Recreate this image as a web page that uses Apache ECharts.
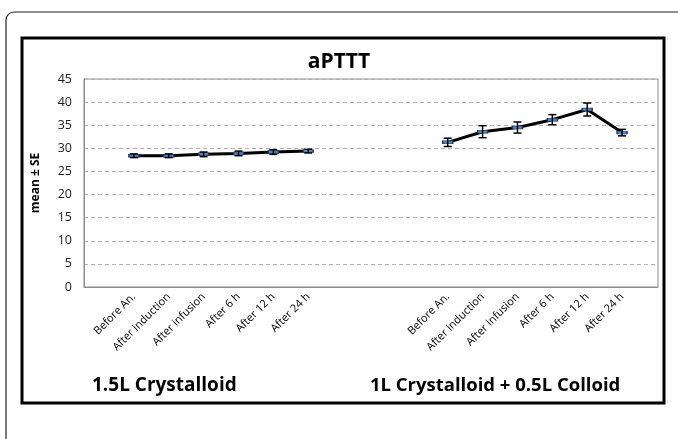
<!DOCTYPE html>
<html>
<head>
<meta charset="utf-8">
<style>
  html, body { margin: 0; padding: 0; background: #fff; }
  #chart { width: 678px; height: 439px; }
</style>
<script src="https://cdn.jsdelivr.net/npm/echarts@6/dist/echarts.min.js"></script>
</head>
<body>
<div id="chart"></div>
<script>
// Time points, repeated for both fluid groups with spacer slots between them
const timePoints = ['Before An.', 'After induction', 'After infusion', 'After 6 h', 'After 12 h', 'After 24 h'];
const categories = [''].concat(timePoints, ['', '', ''], timePoints, ['']);

// aPTT means and standard errors per group
const crystalloidMean = [28.4, 28.4, 28.7, 28.9, 29.2, 29.4];
const crystalloidSE   = [0.4, 0.4, 0.5, 0.5, 0.5, 0.4];
const colloidMean     = [31.3, 33.6, 34.5, 36.2, 38.4, 33.4];
const colloidSE       = [0.9, 1.3, 1.2, 1.1, 1.4, 0.7];

const yTicks = [0, 5, 10, 15, 20, 25, 30, 35, 40, 45];
const groupNames = ['1.5L Crystalloid', '1L Crystalloid + 0.5L Colloid'];

const FONT = '"Open Sans", "Liberation Sans", sans-serif';

// Slot index of each group's first time point
const leftStart = 1, rightStart = 10;
const leftLine = crystalloidMean.map((v, i) => [leftStart + i, v]);
const rightLine = colloidMean.map((v, i) => [rightStart + i, v]);
const errRows = []
  .concat(crystalloidMean.map((v, i) => [leftStart + i, v - crystalloidSE[i], v + crystalloidSE[i]]))
  .concat(colloidMean.map((v, i) => [rightStart + i, v - colloidSE[i], v + colloidSE[i]]));
const labelSlots = categories.map((c, i) => i).filter(i => categories[i] !== '');

const chart = echarts.init(document.getElementById('chart'));

function renderErrorBar(params, api) {
  const x = api.value(0);
  const lo = api.coord([x, api.value(1)]);
  const hi = api.coord([x, api.value(2)]);
  const half = 4;
  const style = { stroke: '#000', lineWidth: 1.5 };
  return {
    type: 'group',
    children: [
      { type: 'line', shape: { x1: lo[0], y1: lo[1], x2: hi[0], y2: hi[1] }, style },
      { type: 'line', shape: { x1: lo[0] - half, y1: lo[1], x2: lo[0] + half, y2: lo[1] }, style },
      { type: 'line', shape: { x1: hi[0] - half, y1: hi[1], x2: hi[0] + half, y2: hi[1] }, style }
    ]
  };
}

const lineSeries = (data) => ({
  type: 'line',
  data: data,
  symbol: 'rect',
  symbolSize: [10, 3],
  itemStyle: { color: '#4f81bd', borderColor: '#1f3a5f', borderWidth: 0.8 },
  lineStyle: { color: '#000', width: 3 },
  z: 3,
  animation: false
});

chart.setOption({
  animation: false,
  title: {
    text: 'aPTTT',
    left: 'center',
    top: 47,
    textStyle: { fontFamily: FONT, fontWeight: 'bold', fontSize: 21, color: '#000' }
  },
  grid: { left: 84, top: 79, right: 20, bottom: 152, show: true, borderColor: '#8c8c8c', borderWidth: 1 },
  xAxis: {
    type: 'value',
    min: -0.43,
    max: 16.03,
    axisLine: { show: true, onZero: false, lineStyle: { color: '#8c8c8c' } },
    axisTick: { show: false },
    axisLabel: {
      customValues: labelSlots,
      formatter: (v) => categories[Math.round(v)] || '',
      rotate: 45,
      fontFamily: FONT,
      fontSize: 11,
      color: '#000',
      margin: 8,
      showMinLabel: true,
      showMaxLabel: true
    },
    splitLine: { show: false }
  },
  yAxis: {
    type: 'value',
    min: yTicks[0],
    max: yTicks[yTicks.length - 1],
    interval: 5,
    name: 'mean ± SE',
    nameLocation: 'middle',
    nameGap: 42,
    nameTextStyle: { fontFamily: FONT, fontWeight: 'bold', fontSize: 12, color: '#000' },
    axisLine: { show: true, onZero: false, lineStyle: { color: '#8c8c8c' } },
    axisTick: { show: false },
    axisLabel: { fontFamily: FONT, fontSize: 12.5, color: '#222', margin: 12 },
    splitLine: { show: true, lineStyle: { color: '#b3b3b3', type: [4, 3], width: 1 } }
  },
  series: [
    lineSeries(leftLine),
    lineSeries(rightLine),
    {
      type: 'custom',
      data: errRows,
      renderItem: renderErrorBar,
      encode: { x: 0, y: [1, 2] },
      z: 4,
      animation: false
    }
  ],
  graphic: [
    {
      type: 'rect',
      shape: { x: 6, y: 12, width: 690, height: 460, r: 8 },
      style: { fill: null, stroke: '#222', lineWidth: 1.2 },
      z: -10
    },
    {
      type: 'rect',
      shape: { x: 22, y: 38, width: 642, height: 365 },
      style: { fill: null, stroke: '#000', lineWidth: 3 },
      z: -9
    },
    {
      type: 'text',
      left: 92, top: 376,
      style: { text: groupNames[0], font: 'bold 19px ' + FONT, fill: '#000' }
    },
    {
      type: 'text',
      left: 370, top: 376,
      style: { text: groupNames[1], font: 'bold 18.5px ' + FONT, fill: '#000' }
    }
  ]
});
</script>
</body>
</html>
